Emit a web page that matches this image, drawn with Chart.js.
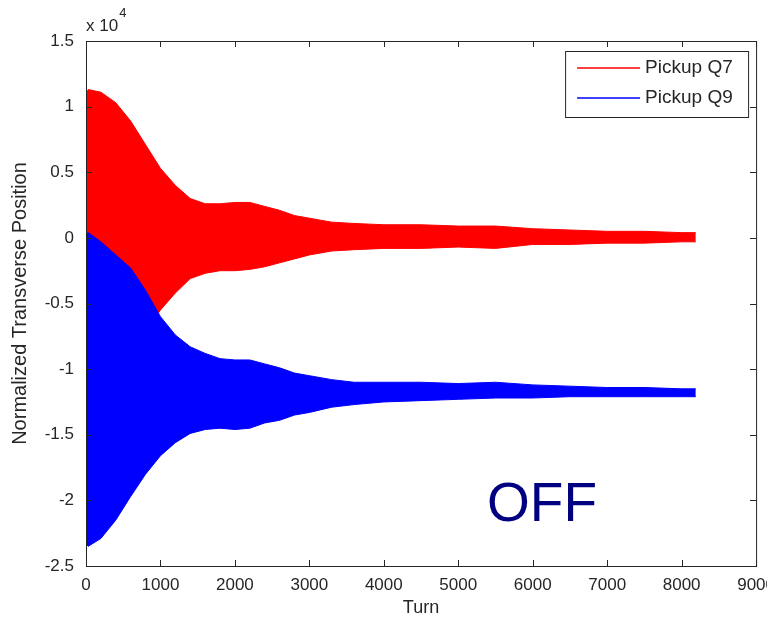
<!DOCTYPE html>
<html>
<head>
<meta charset="utf-8">
<script src="https://cdn.jsdelivr.net/npm/chart.js@4.4.1/dist/chart.umd.min.js"></script>
<style>
    html, body { margin: 0; padding: 0; background: #fff; overflow: hidden; }
    #wrap { width: 784px; height: 621px; }
</style>
</head>
<body>
<div id="wrap"><canvas id="myChart" width="784" height="621"></canvas></div>
<script>
const turns = [0, 30, 200, 400, 600, 800, 1000, 1200, 1400, 1600, 1800, 2000, 2200, 2400, 2600, 2800, 3000, 3300, 3600, 4000, 4500, 5000, 5500, 6000, 6500, 7000, 7500, 8000, 8190];

// Envelope of the oscillation, pickup Q7 (red)
const q7Upper = [11000, 11300, 11100, 10300, 8900, 7100, 5300, 4000, 3000, 2600, 2600, 2700, 2700, 2400, 2100, 1700, 1500, 1200, 1100, 1000, 1000, 900, 900, 700, 600, 500, 500, 400, 400];
const q7Lower = [-11000, -11300, -11100, -10300, -8900, -7100, -5500, -4200, -3100, -2700, -2500, -2500, -2400, -2200, -1900, -1600, -1300, -1000, -900, -800, -800, -700, -800, -500, -500, -400, -400, -300, -300];

// Envelope of the oscillation, pickup Q9 (blue)
const q9Upper = [300, 400, -300, -1300, -2300, -4000, -6000, -7400, -8300, -8800, -9200, -9300, -9300, -9600, -9900, -10300, -10500, -10800, -11000, -11000, -11000, -11100, -11000, -11200, -11300, -11400, -11400, -11500, -11500];
const q9Lower = [-23300, -23500, -22900, -21500, -19700, -18000, -16600, -15600, -14900, -14600, -14500, -14600, -14500, -14100, -13900, -13500, -13300, -12900, -12700, -12500, -12400, -12300, -12200, -12200, -12100, -12100, -12100, -12100, -12100];

const seriesNames = ['Pickup Q7', 'Pickup Q9'];
const seriesColors = ['#ff0000', '#0000ff'];

const axisColor = '#262626';
const tickFont = { family: 'Liberation Sans', size: 17 };

function points(values) {
    return turns.map((t, i) => ({ x: t, y: values[i] }));
}

// Boîte + graduations vers l'intérieur, façon MATLAB
const framePlugin = {
    id: 'frame',
    afterDatasetsDraw(chart) {
        const { ctx, chartArea: a, scales: { x, y } } = chart;
        ctx.save();
        ctx.strokeStyle = axisColor;
        ctx.lineWidth = 1;
        ctx.strokeRect(a.left + 0.5, a.top + 0.5, a.right - a.left, a.bottom - a.top);
        ctx.beginPath();
        x.ticks.forEach(t => {
            const px = Math.round(x.getPixelForValue(t.value)) + 0.5;
            ctx.moveTo(px, a.bottom); ctx.lineTo(px, a.bottom - 6);
            ctx.moveTo(px, a.top); ctx.lineTo(px, a.top + 6);
        });
        y.ticks.forEach(t => {
            const py = Math.round(y.getPixelForValue(t.value)) + 0.5;
            ctx.moveTo(a.left, py); ctx.lineTo(a.left + 6, py);
            ctx.moveTo(a.right, py); ctx.lineTo(a.right - 6, py);
        });
        ctx.stroke();
        ctx.restore();
    }
};

// Légende encadrée + exposant + texte OFF
const extrasPlugin = {
    id: 'extras',
    afterDraw(chart) {
        const { ctx, chartArea: a } = chart;
        ctx.save();

        // x 10^4 above the y axis
        ctx.fillStyle = axisColor;
        ctx.textBaseline = 'alphabetic';
        ctx.textAlign = 'left';
        ctx.font = '17px "Liberation Sans"';
        ctx.fillText('x 10', a.left, a.top - 10);
        const w = ctx.measureText('x 10').width;
        ctx.font = '13px "Liberation Sans"';
        ctx.fillText('4', a.left + w + 1, a.top - 24);

        // legend box
        const bw = 183, bh = 66;
        const bx = a.right - 8 - bw, by = a.top + 10;
        ctx.fillStyle = '#fff';
        ctx.fillRect(bx, by, bw, bh);
        ctx.strokeStyle = axisColor;
        ctx.strokeRect(bx + 0.5, by + 0.5, bw, bh);
        ctx.font = '19px "Liberation Sans"';
        ctx.textBaseline = 'middle';
        const items = chart.data.datasets.filter(d => d.label);
        items.forEach((d, i) => {
            const ly = by + 17 + i * 30;
            ctx.strokeStyle = d.borderColor;
            ctx.lineWidth = 1.5;
            ctx.beginPath();
            ctx.moveTo(bx + 12, ly); ctx.lineTo(bx + 75, ly);
            ctx.stroke();
            ctx.fillStyle = axisColor;
            ctx.fillText(d.label, bx + 80, ly);
        });

        // OFF
        ctx.fillStyle = '#000080';
        ctx.font = '55px "Liberation Sans"';
        ctx.textBaseline = 'alphabetic';
        ctx.fillText('OFF', 487, 521);
        ctx.restore();
    }
};

const ctx = document.getElementById('myChart').getContext('2d');
new Chart(ctx, {
    type: 'line',
    data: {
        datasets: [
            { label: seriesNames[0], data: points(q7Upper), borderColor: seriesColors[0], backgroundColor: seriesColors[0], fill: 1, order: 2 },
            { label: '', data: points(q7Lower), borderColor: seriesColors[0], backgroundColor: seriesColors[0], fill: false, order: 2 },
            { label: seriesNames[1], data: points(q9Upper), borderColor: seriesColors[1], backgroundColor: seriesColors[1], fill: 3, order: 1 },
            { label: '', data: points(q9Lower), borderColor: seriesColors[1], backgroundColor: seriesColors[1], fill: false, order: 1 }
        ]
    },
    options: {
        responsive: false,
        animation: false,
        layout: { padding: { top: 41, left: 0, right: 0, bottom: 0 } },
        elements: {
            point: { radius: 0 },
            line: { borderWidth: 1, tension: 0 }
        },
        plugins: {
            legend: { display: false },
            tooltip: { enabled: false },
            filler: { propagate: false }
        },
        scales: {
            x: {
                type: 'linear',
                min: 0,
                max: 9000,
                grid: { display: false, drawTicks: false },
                border: { display: false },
                ticks: { stepSize: 1000, autoSkip: false, maxRotation: 0, padding: 9, color: axisColor, font: tickFont, callback: v => String(v) },
                title: { display: true, text: 'Turn', color: axisColor, font: { family: 'Liberation Sans', size: 18 }, padding: { top: 0, bottom: 2 } },
                afterFit(scale) { scale.height = 55; }
            },
            y: {
                min: -25000,
                max: 15000,
                grid: { display: false, drawTicks: false },
                border: { display: false },
                ticks: {
                    stepSize: 5000,
                    padding: 12,
                    color: axisColor,
                    font: tickFont,
                    callback: v => String(v / 10000)
                },
                title: { display: true, text: 'Normalized Transverse Position', color: axisColor, font: { family: 'Liberation Sans', size: 20 }, padding: { top: 8, bottom: 0 } },
                afterFit(scale) { scale.width = 86; }
            }
        }
    },
    plugins: [framePlugin, extrasPlugin]
});
</script>
</body>
</html>
